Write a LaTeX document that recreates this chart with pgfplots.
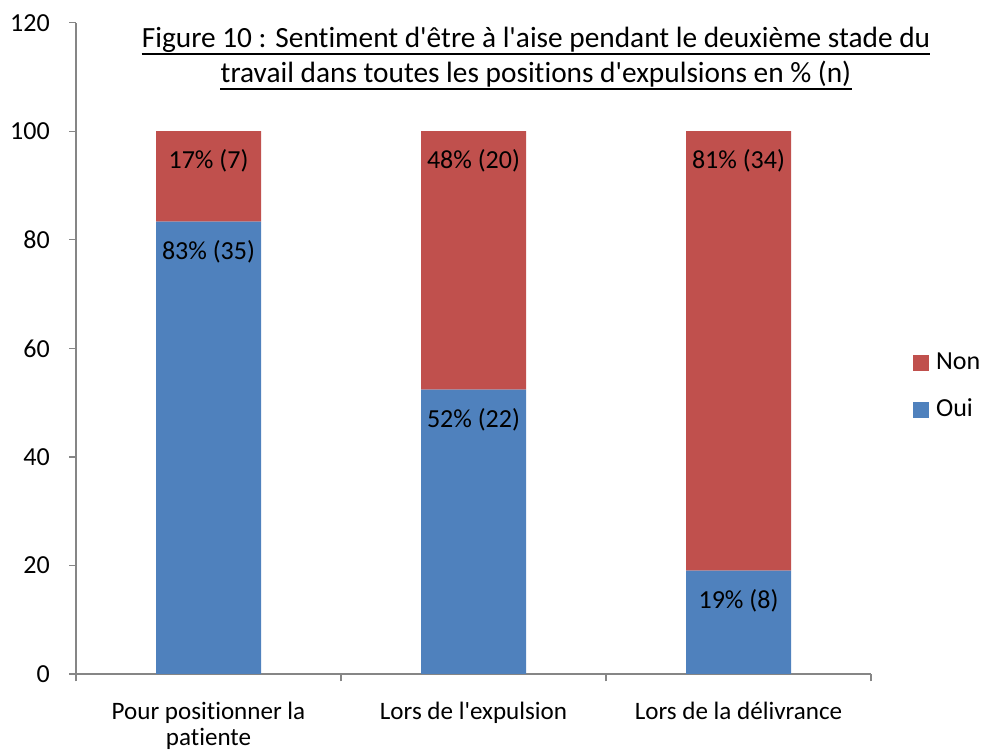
\documentclass[border=0pt]{standalone}
\usepackage{pgfplots}
\pgfplotsset{compat=1.18}
\usepackage{fontspec}
\setmainfont{Carlito}[Ligatures={NoCommon,TeXOff}]
\definecolor{cblue}{HTML}{4F81BD}
\definecolor{cred}{HTML}{C0504D}
\definecolor{cgray}{HTML}{868686}
\newcommand{\fsz}{\fontsize{19.5}{21}\selectfont}
\begin{document}
\fsz
\begin{tikzpicture}
\path[use as bounding box] (0,0) rectangle (736.5pt,564.75pt);
\begin{axis}[
  at={(57pt,59.25pt)}, anchor=south west,
  scale only axis, width=596.25pt, height=488.5pt,
  ybar stacked, bar width=78.75pt,
  xmin=-0.5, xmax=2.5, ymin=0, ymax=120,
  ytick={0,20,...,120},
  xtick={0,1,2},
  xticklabels={{Pour positionner la\\patiente},{Lors de l'expulsion},{Lors de la délivrance}},
  xticklabel style={align=center, font=\fontsize{18.8}{20}\selectfont, yshift=-9pt},
  yticklabel style={font=\fsz, xshift=-8pt},
  /pgf/number format/assume math mode=true,
  minor xtick={-0.5,0.5,1.5,2.5},
  tick align=outside,
  major x tick style={draw=none},
  minor tick length=5.5pt,
  major tick length=5pt,
  tick style={cgray, line width=1pt},
  axis x line*=bottom, axis y line*=left,
  axis line style={cgray, line width=1pt, -},
  legend style={draw=none, at={(1.053,0.441)}, anchor=west, font=\fsz, row sep=15pt, inner sep=0pt},
  legend cell align=left,
  reverse legend,
  legend image code/.code={\fill[#1] (0pt,-6pt) rectangle (12pt,6pt); \path (15pt,0pt);},
  point meta=explicit symbolic,
  visualization depends on={rawy \as \rawy},
  nodes near coords,
  every node near coord/.append style={anchor=center, font=\fsz, text=black, inner sep=0pt,
     yshift={\rawy*2.0354pt-22.5pt}},
  clip=false,
]
\addplot[fill=cblue, draw=none] coordinates {(0,83.33) [83\% (35)] (1,52.38) [52\% (22)] (2,19.05) [19\% (8)]};
\addplot[fill=cred, draw=none] coordinates {(0,16.67) [17\% (7)] (1,47.62) [48\% (20)] (2,80.95) [81\% (34)]};
\legend{Oui,Non}
\end{axis}
\node[anchor=base, inner sep=0pt, font=\fontsize{22}{26}\selectfont] (t1) at (402pt,528.75pt) {Figure 10 : Sentiment d'être à l'aise pendant le deuxième stade du};
\node[anchor=base, inner sep=0pt, font=\fontsize{22}{26}\selectfont] (t2) at (402pt,502.5pt) {travail dans toutes les positions d'expulsions en \% (n)};
\draw[line width=1.4pt] ([yshift=-4.5pt]t1.base west) -- ([yshift=-4.5pt]t1.base east);
\draw[line width=1.4pt] ([yshift=-4.5pt]t2.base west) -- ([yshift=-4.5pt]t2.base east);
\end{tikzpicture}
\end{document}
